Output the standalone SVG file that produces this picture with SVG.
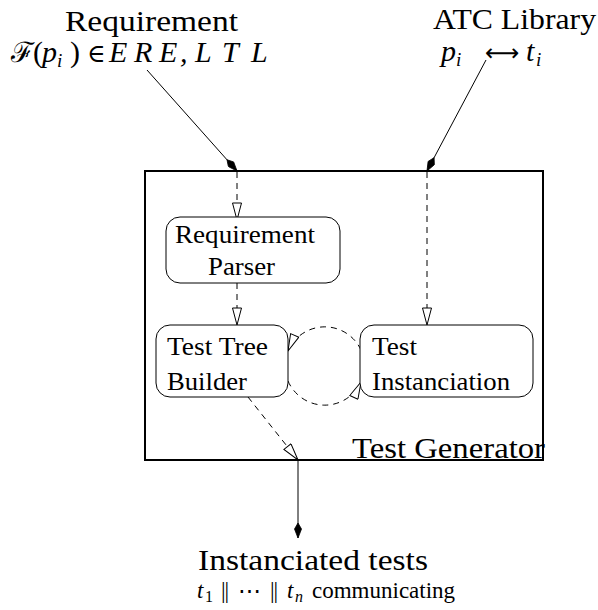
<svg xmlns="http://www.w3.org/2000/svg" width="598" height="610" viewBox="0 0 598 610" font-family="'Liberation Serif', 'Times New Roman', serif">
<style>
text{fill:#000;font-family:'Liberation Serif','Times New Roman',serif}
.big{font-size:29px}
.mid{font-size:25px}
.it{font-style:italic}
.dv{font-family:'DejaVu Serif',serif}
.node{fill:#fff;stroke:#000;stroke-width:1}
.dash{fill:none;stroke:#000;stroke-width:1;stroke-dasharray:6 5}
.solid{fill:none;stroke:#000;stroke-width:1}
</style>
<defs>
<marker id="fill" viewBox="-16 -4 17 8" refX="0" refY="0" markerWidth="17" markerHeight="8" markerUnits="userSpaceOnUse" orient="auto">
<path d="M0,0 L-9,-3.5 L-15,0 L-9,3.5 Z" fill="#000" stroke="#000" stroke-width="0.8"/>
</marker>
<marker id="open" viewBox="-19 -5 20 10" refX="0" refY="0" markerWidth="20" markerHeight="10" markerUnits="userSpaceOnUse" orient="auto">
<path d="M0,0 L-17,-4.5 L-17,4.5 Z" fill="#fff" stroke="#000" stroke-width="1"/>
</marker>
</defs>

<g id="test-generator">
<rect x="145" y="171" width="398" height="289" fill="#fff" stroke="#000" stroke-width="2"/>
</g>

<g id="connectors">
<line class="solid" x1="147" y1="70" x2="237" y2="171" marker-end="url(#fill)"/>
<line class="solid" x1="486" y1="60" x2="427" y2="171" marker-end="url(#fill)"/>
<line class="dash" x1="237" y1="172" x2="237" y2="220" marker-end="url(#open)"/>
<line class="dash" x1="237" y1="283" x2="237" y2="325" marker-end="url(#open)"/>
<line class="dash" x1="427" y1="172" x2="427" y2="325" marker-end="url(#open)"/>
<path class="dash" d="M361,350 A40,40 0 0 0 288,351" marker-end="url(#open)"/>
<path class="dash" d="M288,381 A40,40 0 0 0 361,382" marker-end="url(#open)"/>
<line class="dash" x1="248" y1="397" x2="298" y2="460" marker-end="url(#open)"/>
<line class="solid" x1="298" y1="460" x2="298" y2="538" marker-end="url(#fill)"/>
</g>

<g id="requirement-parser">
<rect class="node" x="166" y="217" width="174" height="66" rx="14"/>
<text class="mid" x="175" y="243" textLength="140" lengthAdjust="spacingAndGlyphs">Requirement</text>
<text class="mid" x="208" y="275" textLength="67" lengthAdjust="spacingAndGlyphs">Parser</text>
</g>

<g id="test-tree-builder">
<rect class="node" x="156" y="325" width="132" height="72" rx="14"/>
<text class="mid" x="167" y="355" textLength="101" lengthAdjust="spacingAndGlyphs">Test Tree</text>
<text class="mid" x="167" y="390" textLength="80" lengthAdjust="spacingAndGlyphs">Builder</text>
</g>

<g id="test-instanciation">
<rect class="node" x="360" y="325" width="173" height="72" rx="14"/>
<text class="mid" x="372" y="355" textLength="45" lengthAdjust="spacingAndGlyphs">Test</text>
<text class="mid" x="372" y="390" textLength="138" lengthAdjust="spacingAndGlyphs">Instanciation</text>
</g>

<g id="label-test-generator">
<text class="big" x="352" y="458" textLength="193" lengthAdjust="spacingAndGlyphs">Test Generator</text>
</g>

<g id="requirement">
<text class="big" x="65" y="31" textLength="173" lengthAdjust="spacingAndGlyphs">Requirement</text>
<text font-size="30" y="62"><tspan x="11" class="dv" font-size="28">ℱ</tspan><tspan x="33">(</tspan><tspan x="42" class="it">p</tspan><tspan x="57" dy="5" font-size="19" class="it">i</tspan><tspan x="70" dy="-5">)</tspan><tspan x="87" class="dv" font-size="25">∈</tspan><tspan x="109" class="it">E</tspan><tspan x="134" class="it">R</tspan><tspan x="159" class="it">E</tspan><tspan x="180" class="it">,</tspan><tspan x="195" class="it">L</tspan><tspan x="222" class="it">T</tspan><tspan x="251" class="it">L</tspan></text>
</g>

<g id="atc-library">
<text class="big" x="433" y="29" textLength="163" lengthAdjust="spacingAndGlyphs">ATC Library</text>
<text font-size="30" y="61"><tspan x="441" class="it">p</tspan><tspan x="456" dy="5" font-size="19" class="it">i</tspan><tspan x="485" dy="-5" style="font-family:'DejaVu Sans',sans-serif" font-size="24">⟷</tspan><tspan x="526" class="it">t</tspan><tspan x="536" dy="5" font-size="19" class="it">i</tspan></text>
</g>

<g id="instanciated-tests">
<text class="big" x="198" y="570" textLength="230" lengthAdjust="spacingAndGlyphs">Instanciated tests</text>
<text font-size="23" y="598"><tspan x="197" class="it">t</tspan><tspan x="205" dy="4" font-size="16">1</tspan><tspan x="221" dy="-4" letter-spacing="-1">||</tspan><tspan x="238" class="dv">⋯</tspan><tspan x="270" letter-spacing="-1">||</tspan><tspan x="287" class="it">t</tspan><tspan x="295" dy="4" font-size="16" class="it">n</tspan><tspan x="312" dy="-4">communicating</tspan></text>
</g>
</svg>
